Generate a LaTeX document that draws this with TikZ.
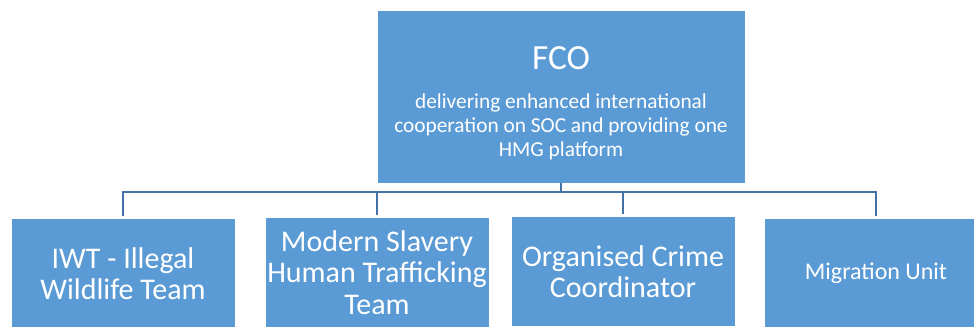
\documentclass[tikz,border=0pt]{standalone}
\usepackage{fontspec}
\setmainfont{Carlito}
\definecolor{boxblue}{RGB}{91,155,213}
\definecolor{linkblue}{RGB}{68,114,166}

\begin{document}
\begin{tikzpicture}[x=0.75pt,y=-0.75pt,
    unit/.style={rectangle,fill=boxblue,draw=white,line width=0.6pt,text=white,
      align=center,inner sep=0pt,minimum width=168pt,minimum height=82.5pt,anchor=north,
      font=\fontsize{22.5}{23.5}\selectfont},
    link/.style={draw=linkblue,line width=1.7pt}]
  \useasboundingbox (0,0) rectangle (974,326);
  \clip (0,0) rectangle (974,326);
  %FCO
  \node[unit,anchor=center,minimum width=276pt,minimum height=129.75pt,
    font=\fontsize{26.5}{30}\selectfont] (fco) at (561,96.5)
    {\rule{0pt}{30pt}FCO\\[15pt]{\fontsize{16}{18}\selectfont\begin{tabular}{@{}c@{}}
     delivering enhanced international\\
     cooperation on SOC and providing one\\
     HMG platform\end{tabular}}};
  %TEAMS
  \node[unit] (iwt) at (123,218) {IWT - Illegal\\ Wildlife Team};
  \node[unit] (msht) at (377,217) {Modern Slavery\\ Human Trafficking\\ Team};
  \node[unit] (occ) at (623,216) {Organised Crime\\ Coordinator};
  \node[unit,font=\fontsize{18}{21}\selectfont] (mig) at (876,218) {Migration Unit};
  %BUS
  \coordinate (bus) at (561,192);
  \draw[link] (fco.south) -- (fco.south |- bus) -| ([yshift=1.5pt]iwt.north);
  \draw[link] (fco.south |- bus) -| ([yshift=1.5pt]msht.north);
  \draw[link] (fco.south |- bus) -| ([yshift=1.5pt]occ.north);
  \draw[link] (fco.south |- bus) -| ([yshift=1.5pt]mig.north);
\end{tikzpicture}
\end{document}
